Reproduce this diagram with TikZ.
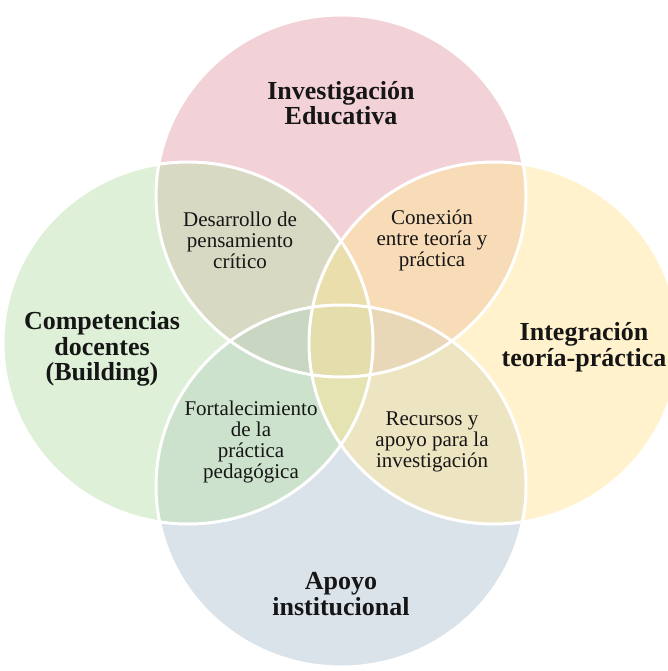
\documentclass[tikz,border=0pt]{standalone}
\usepackage{fontspec}
\setmainfont{Liberation Serif}
\definecolor{pinkb}{RGB}{229,163,175}
\definecolor{greenb}{RGB}{190,225,175}
\definecolor{yellowb}{RGB}{255,229,153}
\definecolor{blueb}{RGB}{183,199,213}
\definecolor{txt}{RGB}{22,22,22}
\begin{document}
\begin{tikzpicture}[x=1pt,y=-1pt,
  big/.style={font=\fontsize{26}{25.5}\selectfont\bfseries, align=center, inner sep=0pt, text=txt},
  small/.style={font=\fontsize{21}{21}\selectfont, align=center, inner sep=0pt, text=txt},
  blob/.style={fill opacity=0.5},
  rim/.style={draw=white, line width=3pt}]
\useasboundingbox (0,0) rectangle (668,671);
\begin{scope}
\clip (0,0) rectangle (668,671);
\fill[pinkb, blob] (341,196) ellipse [x radius=185, y radius=181];
\fill[blueb, blob] (341,486) ellipse [x radius=185, y radius=181];
\fill[greenb, blob] (188,343) ellipse [x radius=185, y radius=181];
\fill[yellowb, blob] (494,343) ellipse [x radius=185, y radius=181];
\draw[rim] (341,196) ellipse [x radius=185, y radius=181];
\draw[rim] (341,486) ellipse [x radius=185, y radius=181];
\draw[rim] (188,343) ellipse [x radius=185, y radius=181];
\draw[rim] (494,343) ellipse [x radius=185, y radius=181];
\end{scope}
\node[big] (inv) at (341,103) {Investigación\\Educativa};
\node[big] (comp) at (102,349) {Competencias\\docentes\\(Building)};
\node[big] (integ) at (584,347) {Integración\\teoría-práctica};
\node[big] (apoyo) at (341,594) {Apoyo\\institucional};
\node[small] (des) at (240,240) {Desarrollo de\\pensamiento\\crítico};
\node[small] (con) at (432,240) {Conexión\\entre teoría y\\práctica};
\node[small] (fort) at (251,442) {Fortalecimiento\\de la\\práctica\\pedagógica};
\node[small] (rec) at (432,442) {Recursos y\\apoyo para la\\investigación};
\end{tikzpicture}
\end{document}
